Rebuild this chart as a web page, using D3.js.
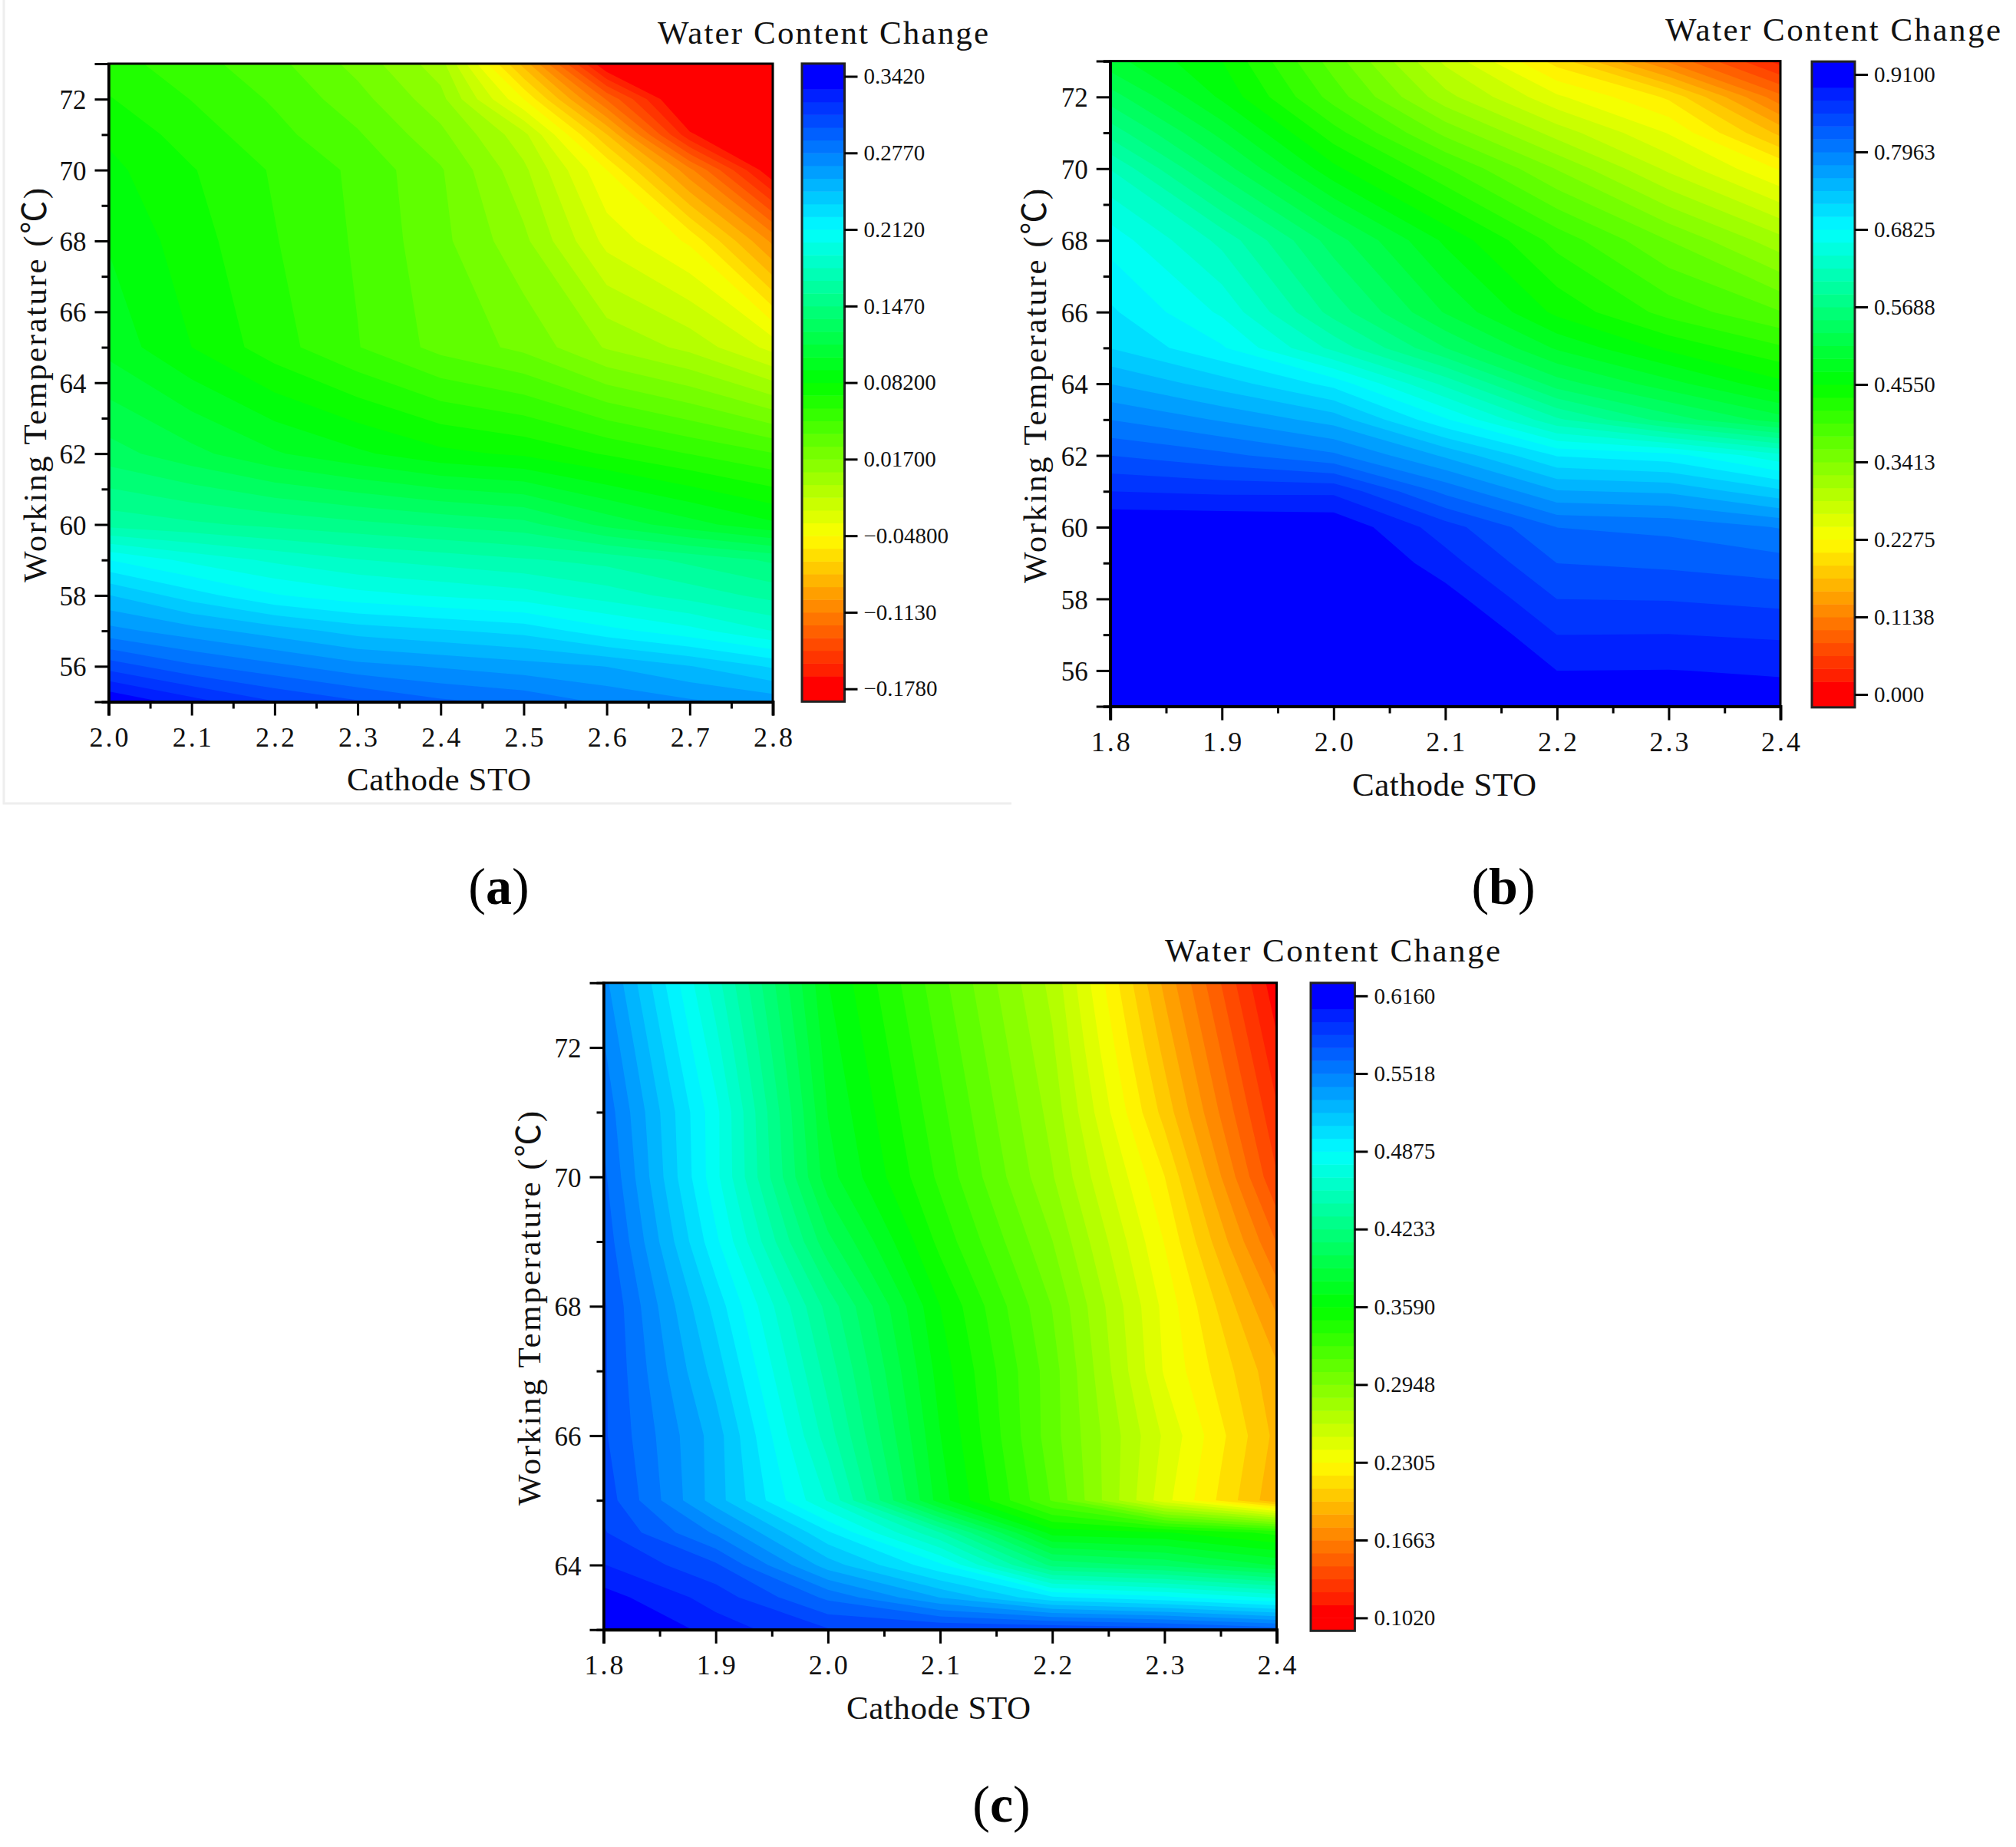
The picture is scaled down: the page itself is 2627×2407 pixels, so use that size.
<!DOCTYPE html>
<html>
<head>
<meta charset="utf-8">
<script src="https://cdnjs.cloudflare.com/ajax/libs/d3/7.9.0/d3.min.js"></script>
<style>
  html, body { margin: 0; background: #fff; }
  text { font-family: "Liberation Serif", "Noto Sans CJK SC", serif; fill: #111; }
</style>
</head>
<body>
<svg id="chart" width="2627" height="2407"></svg>
<script>
const colorbarTitle = 'Water Content Change';
const xTitle = 'Cathode STO';
const yTitle = 'Working Temperature (℃)';

// panel a
const stoA = [2.0, 2.1, 2.2, 2.3, 2.4, 2.5, 2.6, 2.7, 2.8];
const tempA = [55, 56, 57, 58, 59, 60, 62, 65, 68, 70, 71, 72, 73];
const waterA = [
  [.342, .325, .31, .30, .29, .285, .275, .268, .262],
  [.305, .29, .28, .27, .265, .26, .255, .245, .232],
  [.27, .26, .25, .24, .235, .23, .216, .205, .19],
  [.245, .228, .213, .205, .20, .195, .185, .175, .165],
  [.212, .198, .188, .18, .175, .17, .165, .155, .145],
  [.165, .16, .155, .15, .145, .14, .122, .108, .095],
  [.13, .118, .105, .095, .085, .08, .07, .06, .05],
  [.10, .082, .065, .05, .035, .025, .005, -.008, -.03],
  [.092, .076, .061, .048, .031, .009, -.03, -.05, -.105],
  [.085, .072, .059, .047, .029, -.002, -.048, -.11, -.178],
  [.08, .066, .053, .04, .02, -.012, -.08, -.165, -.195],
  [.072, .06, .048, .032, .01, -.048, -.125, -.19, -.2],
  [.065, .054, .042, .024, 0, -.085, -.18, -.2, -.2]
];
const barTicksA = [0.342, 0.277, 0.212, 0.147, 0.082, 0.017, -0.048, -0.113, -0.178];
const barLabelsA = ['0.3420', '0.2770', '0.2120', '0.1470', '0.08200', '0.01700', '−0.04800', '−0.1130', '−0.1780'];

// panel b
const stoB = [1.8, 1.9, 2.0, 2.1, 2.2, 2.3, 2.4];
const tempB = [55, 56, 57, 58, 59, 60, 61, 62, 63, 64, 65, 66, 68, 70, 71, 72, 73];
const waterB = [
  [.97, .97, .96, .95, .91, .905, .90],
  [.96, .96, .95, .94, .891, .8915, .889],
  [.95, .95, .94, .92, .872, .8725, .869],
  [.94, .94, .93, .90, .853, .852, .847],
  [.93, .93, .92, .88, .834, .83, .823],
  [.91, .91, .907, .862, .815, .81, .795],
  [.872, .868, .868, .81, .76, .755, .725],
  [.834, .82, .80, .755, .70, .69, .65],
  [.796, .775, .75, .685, .61, .56, .52],
  [.758, .73, .695, .62, .54, .50, .46],
  [.72, .685, .62, .55, .49, .45, .42],
  [.705, .66, .58, .51, .45, .41, .38],
  [.675, .62, .54, .47, .41, .36, .31],
  [.625, .54, .46, .40, .34, .28, .225],
  [.58, .505, .425, .355, .295, .245, .165],
  [.54, .47, .39, .31, .25, .205, .10],
  [.50, .455, .37, .28, .20, .11, .03]
];
const barTicksB = [0.91, 0.7963, 0.6825, 0.5688, 0.455, 0.3413, 0.2275, 0.1138, 0];
const barLabelsB = ['0.9100', '0.7963', '0.6825', '0.5688', '0.4550', '0.3413', '0.2275', '0.1138', '0.000'];

// panel c
const stoC = [1.8, 1.9, 2.0, 2.1, 2.2, 2.3, 2.4];
const tempC = [63, 63.5, 64, 64.5, 65, 66, 67, 68, 69, 70, 71, 72, 73];
const waterC = [
  [.625, .60, .585, .585, .585, .58, .57],
  [.61, .59, .56, .53, .50, .49, .475],
  [.595, .575, .525, .49, .42, .41, .39],
  [.585, .55, .50, .445, .365, .36, .345],
  [.58, .525, .465, .375, .315, .245, .19],
  [.575, .525, .45, .37, .31, .25, .195],
  [.575, .515, .44, .365, .31, .24, .19],
  [.575, .505, .43, .359, .305, .238, .175],
  [.57, .49, .405, .345, .295, .23, .155],
  [.565, .48, .385, .335, .285, .22, .135],
  [.56, .48, .38, .33, .28, .205, .125],
  [.553, .47, .375, .325, .275, .195, .115],
  [.545, .46, .37, .32, .27, .185, .105]
];
const barTicksC = [0.616, 0.5518, 0.4875, 0.4233, 0.359, 0.2948, 0.2305, 0.1663, 0.102];
const barLabelsC = ['0.6160', '0.5518', '0.4875', '0.4233', '0.3590', '0.2948', '0.2305', '0.1663', '0.1020'];

const bandsPerSpan = 48;

const panels = [
  {
    sto: stoA, temp: tempA, water: waterA, barTicks: barTicksA, barLabels: barLabelsA, name: 'a',
    xMajor: [2.0, 2.1, 2.2, 2.3, 2.4, 2.5, 2.6, 2.7, 2.8],
    yMajor: [56, 58, 60, 62, 64, 66, 68, 70, 72],
    yMinor: [55, 57, 59, 61, 63, 65, 67, 69, 71, 73],
    plot: {left: 141.5, right: 1007, top: 83, bottom: 914.5},
    bar: {left: 1045, right: 1100.5, tickTop: 99.5, tickBottom: 897.7},
    title: {x: 857, y: 57, w: 431},
    xLabel: {x: 572, y: 1030}, yLabel: {x: 60, y: 502},
    tag: {x: 650, y: 1178}
  },
  {
    sto: stoB, temp: tempB, water: waterB, barTicks: barTicksB, barLabels: barLabelsB, name: 'b',
    xMajor: [1.8, 1.9, 2.0, 2.1, 2.2, 2.3, 2.4],
    yMajor: [56, 58, 60, 62, 64, 66, 68, 70, 72],
    yMinor: [55, 57, 59, 61, 63, 65, 67, 69, 71, 73],
    plot: {left: 1446.7, right: 2320, top: 79.6, bottom: 920.6},
    bar: {left: 2361, right: 2417, tickTop: 97, tickBottom: 905},
    title: {x: 2170, y: 53, w: 437},
    xLabel: {x: 1882, y: 1037}, yLabel: {x: 1363, y: 503},
    tag: {x: 1959, y: 1178}
  },
  {
    sto: stoC, temp: tempC, water: waterC, barTicks: barTicksC, barLabels: barLabelsC, name: 'c',
    xMajor: [1.8, 1.9, 2.0, 2.1, 2.2, 2.3, 2.4],
    yMajor: [64, 66, 68, 70, 72],
    yMinor: [63, 65, 67, 69, 71, 73],
    plot: {left: 786.5, right: 1663.6, top: 1280.8, bottom: 2123.8},
    bar: {left: 1708, right: 1765.4, tickTop: 1297.8, tickBottom: 2108.4},
    title: {x: 1518, y: 1253, w: 437},
    xLabel: {x: 1223, y: 2240}, yLabel: {x: 704, y: 1705},
    tag: {x: 1305, y: 2374}
  }
];

const svg = d3.select('#chart');

// thin grey edge left over around panel a
svg.append('path')
  .attr('d', 'M5,0V1047H1318')
  .attr('fill', 'none')
  .attr('stroke', '#eeeeee')
  .attr('stroke-width', 3);

// the two outer bands at each end of the bar are pure red / pure blue
function bandColor(k) {
  const t = k <= 0 ? 0 : k >= bandsPerSpan - 1 ? 1 : (k + 0.5) / bandsPerSpan;
  return d3.hsl(240 * t, 1, 0.5).formatHex();
}

function drawPanel(p) {
  const g = svg.append('g');
  const xScale = d3.scaleLinear().domain(d3.extent(p.sto)).range([p.plot.left, p.plot.right]);
  const yScale = d3.scaleLinear().domain(d3.extent(p.temp)).range([p.plot.bottom, p.plot.top]);

  const vMax = p.barTicks[0];
  const vMin = p.barTicks[p.barTicks.length - 1];
  const step = (vMax - vMin) / bandsPerSpan;
  const levels = d3.range(0, bandsPerSpan + 1).map(k => vMin + k * step);

  // grid coordinates from d3.contours sit half a cell off the data
  const colToSto = d3.scaleLinear().domain(p.sto.map((d, i) => i + 0.5)).range(p.sto).clamp(true);
  const rowToTemp = d3.scaleLinear().domain(p.temp.map((d, i) => i + 0.5)).range(p.temp).clamp(true);
  const path = d3.geoPath(d3.geoTransform({
    point(x, y) { this.stream.point(xScale(colToSto(x)), yScale(rowToTemp(y))); }
  }));

  const clipId = 'clip-' + p.name;
  g.append('clipPath').attr('id', clipId).append('rect')
    .attr('x', p.plot.left).attr('y', p.plot.top)
    .attr('width', p.plot.right - p.plot.left).attr('height', p.plot.bottom - p.plot.top);

  const field = g.append('g').attr('clip-path', 'url(#' + clipId + ')');
  field.append('rect')
    .attr('x', p.plot.left).attr('y', p.plot.top)
    .attr('width', p.plot.right - p.plot.left).attr('height', p.plot.bottom - p.plot.top)
    .attr('fill', bandColor(-1));

  const contours = d3.contours()
    .size([p.sto.length, p.temp.length])
    .thresholds(levels)
    .smooth(true)(p.water.flat());

  field.selectAll('path').data(contours).join('path')
    .attr('d', path)
    .attr('fill', (d, k) => bandColor(k));

  // frame
  g.append('rect')
    .attr('x', p.plot.left).attr('y', p.plot.top)
    .attr('width', p.plot.right - p.plot.left).attr('height', p.plot.bottom - p.plot.top)
    .attr('fill', 'none').attr('stroke', '#000').attr('stroke-width', 3);

  // axes
  const xMinor = d3.range(p.xMajor.length - 1).map(i => (p.xMajor[i] + p.xMajor[i + 1]) / 2);
  g.append('g').attr('transform', 'translate(0,' + p.plot.bottom + ')')
    .call(d3.axisBottom(xScale).tickValues(xMinor).tickSize(9).tickFormat(''))
    .call(styleAxis);
  g.append('g').attr('transform', 'translate(0,' + p.plot.bottom + ')')
    .call(d3.axisBottom(xScale).tickValues(p.xMajor).tickSize(18).tickPadding(15).tickFormat(d3.format('.1f')))
    .call(styleAxis)
    .call(sel => sel.select('.domain').attr('stroke-width', 4))
    .selectAll('text').attr('font-size', 36).attr('textLength', 51);

  g.append('g').attr('transform', 'translate(' + p.plot.left + ',0)')
    .call(d3.axisLeft(yScale).tickValues(p.yMinor).tickSize(9).tickFormat(''))
    .call(styleAxis);
  g.append('g').attr('transform', 'translate(' + p.plot.left + ',0)')
    .call(d3.axisLeft(yScale).tickValues(p.yMajor).tickSize(18).tickPadding(11))
    .call(styleAxis)
    .selectAll('text').attr('font-size', 35).attr('dy', '0.36em');

  // colour bar
  const barScale = d3.scaleLinear().domain([vMin, vMax]).range([p.bar.tickBottom, p.bar.tickTop]);
  const barBands = d3.range(-1, bandsPerSpan + 1);
  g.append('g').selectAll('rect').data(barBands).join('rect')
    .attr('x', p.bar.left)
    .attr('width', p.bar.right - p.bar.left)
    .attr('y', k => barScale(vMin + (k + 1) * step))
    .attr('height', k => barScale(vMin + k * step) - barScale(vMin + (k + 1) * step) + 0.5)
    .attr('fill', k => bandColor(k));
  g.append('rect')
    .attr('x', p.bar.left).attr('y', barScale(vMax + step))
    .attr('width', p.bar.right - p.bar.left)
    .attr('height', barScale(vMin - step) - barScale(vMax + step))
    .attr('fill', 'none').attr('stroke', '#222').attr('stroke-width', 3);
  g.append('g').attr('transform', 'translate(' + p.bar.right + ',0)')
    .call(d3.axisRight(barScale).tickValues(p.barTicks).tickSize(17).tickPadding(8)
      .tickFormat((d, i) => p.barLabels[i]))
    .call(styleAxis)
    .call(sel => sel.select('.domain').remove())
    .selectAll('text').attr('font-size', 29);

  // titles
  g.append('text')
    .attr('x', p.title.x).attr('y', p.title.y)
    .attr('font-size', 43).attr('textLength', p.title.w)
    .text(colorbarTitle);
  g.append('text')
    .attr('x', p.xLabel.x).attr('y', p.xLabel.y)
    .attr('font-size', 43).attr('text-anchor', 'middle').attr('textLength', 240)
    .text(xTitle);
  g.append('text')
    .attr('transform', 'translate(' + p.yLabel.x + ',' + p.yLabel.y + ') rotate(-90)')
    .attr('font-size', 43).attr('text-anchor', 'middle').attr('textLength', 514)
    .text(yTitle);

  const tag = g.append('text')
    .attr('x', p.tag.x).attr('y', p.tag.y)
    .attr('font-size', 68).attr('text-anchor', 'middle')
    .style('fill', '#000');
  tag.append('tspan').text('(');
  tag.append('tspan').attr('font-weight', 'bold').text(p.name);
  tag.append('tspan').text(')');
}

function styleAxis(sel) {
  sel.selectAll('.domain').attr('stroke', '#000').attr('stroke-width', 3);
  sel.selectAll('.tick line').attr('stroke', '#000').attr('stroke-width', 3);
}

panels.forEach(drawPanel);
</script>
</body>
</html>
